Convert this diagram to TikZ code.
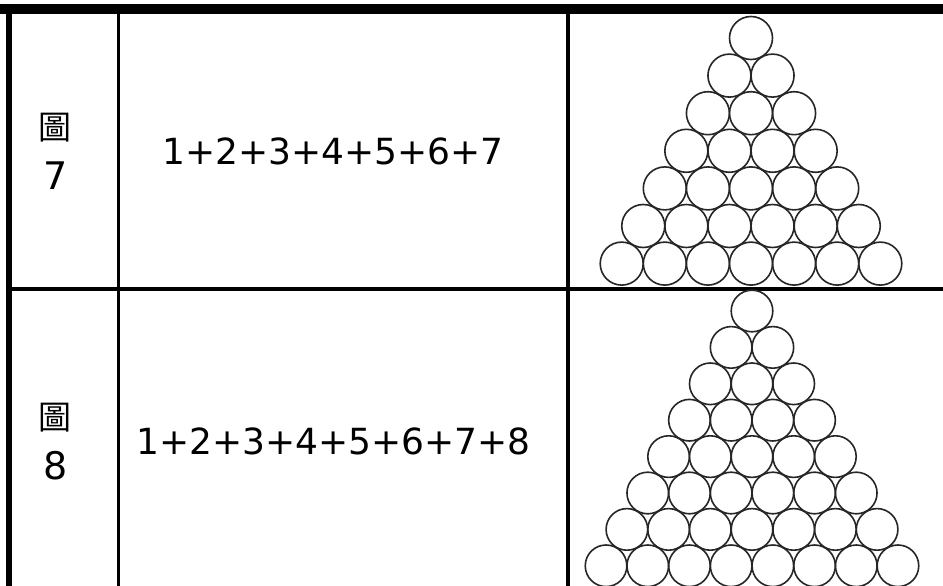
\documentclass[tikz,border=0pt]{standalone}
\usepackage{fontspec}
\setmainfont{DejaVu Sans}
\newfontfamily\cjkfont{Noto Sans CJK TC}
\begin{document}
\begin{tikzpicture}[x=1pt,y=-1pt,
  rule/.style={line width=#1,black},
  ball/.style={draw=black!85,line width=1.6pt},
  lab/.style={inner sep=0pt,font=\fontsize{38}{40}\selectfont},
  cjk/.style={inner sep=0pt,font=\cjkfont\fontsize{33}{35}\selectfont},
  sum/.style={inner sep=0pt,font=\fontsize{36}{38}\selectfont}]
\useasboundingbox (0,0) rectangle (943,586);
\fill[white] (0,0) rectangle (943,586);
% table rules
\draw[rule=10pt] (0,9.5) -- (943,9.5);
\draw[rule=6pt] (8.5,9) -- (8.5,586);
\draw[rule=3.6pt] (118.5,9) -- (118.5,586);
\draw[rule=3.6pt] (568,9) -- (568,586);
\draw[rule=3.6pt] (6,289) -- (943,289);
% row 1
\node[cjk] (c7) at (55,128) {圖};
\node[lab] (n7) at (56,176) {7};
\node[sum] (s7) at (333,151.5) {1+2+3+4+5+6+7};
\foreach \r in {0,...,6}{
  \foreach \k in {0,...,\r}{
    \draw[ball] ({751+(\k-\r/2)*43.1},{38+\r*37.6}) circle (21.5);
  }
}
% row 2
\node[cjk] (c8) at (55,418) {圖};
\node[lab] (n8) at (56,465.5) {8};
\node[sum] (s8) at (333.5,441) {1+2+3+4+5+6+7+8};
\foreach \r in {0,...,7}{
  \foreach \k in {0,...,\r}{
    \draw[ball] ({752+(\k-\r/2)*41.7},{311+\r*36.4}) circle (20.8);
  }
}
\end{tikzpicture}
\end{document}
